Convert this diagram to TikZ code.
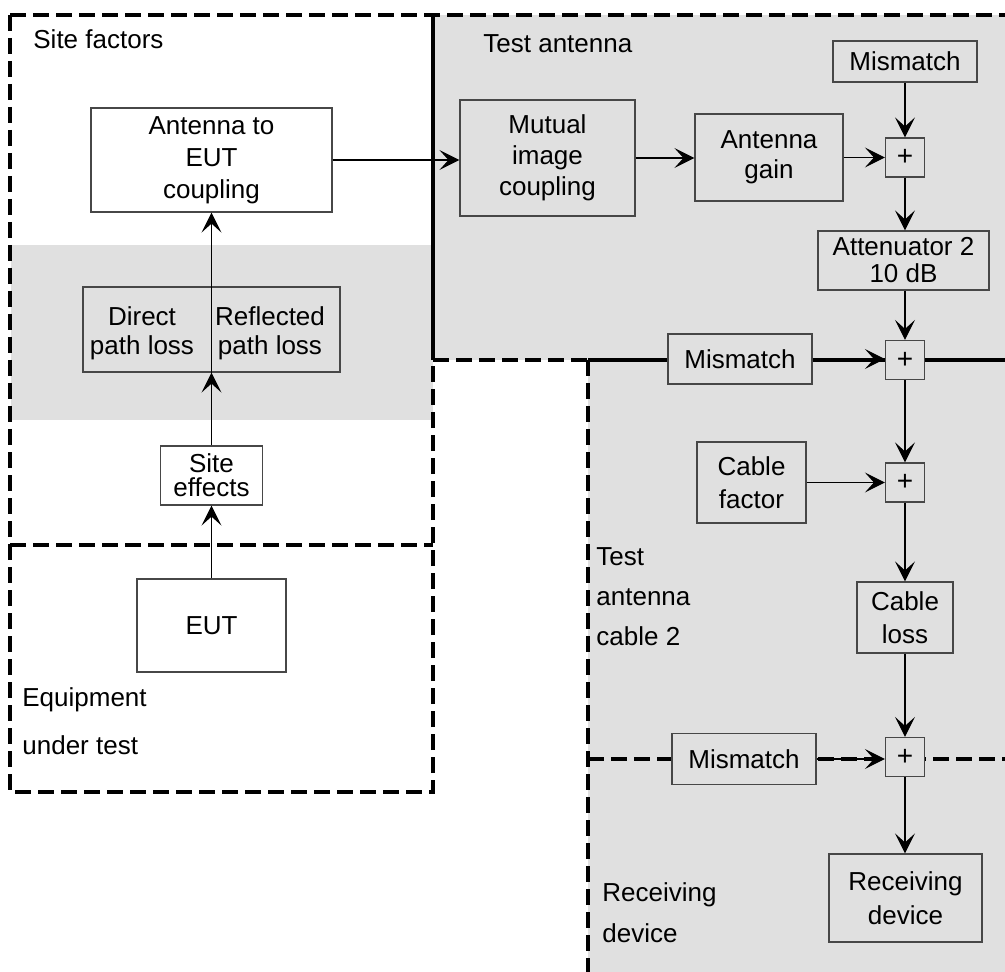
\documentclass[tikz,border=0pt]{standalone}
\usepackage{fontspec}
\setmainfont{Liberation Sans}
\usetikzlibrary{arrows.meta}
\definecolor{panel}{gray}{0.878}
\definecolor{edge}{gray}{0.28}

\begin{document}
\begin{tikzpicture}[x=0.5pt,y=-0.5pt,
  every node/.style={font=\fontsize{13}{16}\selectfont},
  linesp/.style={font=\fontsize{13}{#1}\selectfont},
  blockbox/.style={draw=edge, line width=0.6pt, align=center, inner sep=0pt, fill=panel},
  whitebox/.style={blockbox, fill=white},
  sumbox/.style={blockbox, minimum size=19.5pt, font=\fontsize{14}{16}\selectfont},
  plain/.style={align=center, inner sep=0pt},
  tag/.style={anchor=base west, inner sep=0pt},
  flow/.style={-{Stealth[length=10pt,width=10pt,inset=4.5pt]}, line width=0.6pt, draw=black},
  rim/.style={line width=1.8pt, dash pattern=on 8pt off 3.5pt},
  rimsolid/.style={line width=1.8pt}]

\useasboundingbox (0,0) rectangle (1005,972);

% shaded areas
\fill[panel] (433,15) rectangle (1005,360);
\fill[panel] (588,360) rectangle (1005,972);
\fill[panel] (11,245) rectangle (433,420);

% boundary of the site / EUT area
\draw[rim] (10,15) -- (1005,15);
\draw[rim] (10,15) -- (10,792) -- (433,792) -- (433,360);
\draw[rim] (10,545) -- (433,545);
% boundary of the test antenna area
\draw[rimsolid] (433,15) -- (433,360);
\draw[rim] (433,360) -- (588,360);
\draw[rimsolid] (588,360) -- (1005,360);
% boundary of the cable / receiver area
\draw[rim] (588,360) -- (588,972);
\draw[rim] (588,759) -- (1005,759);

% site and EUT blocks
\node[whitebox, minimum width=120.5pt, minimum height=52pt, linesp=16pt] (ant2eut) at (211.5,160) {Antenna to\\EUT\\coupling};
\node[blockbox, minimum width=128.5pt, minimum height=42.5pt] (paths) at (211.5,329.5) {};
\node[plain, linesp=14.5pt] (direct) at (142,333) {Direct\\path loss};
\node[plain, linesp=14.5pt] (reflected) at (270,333) {Reflected\\path loss};
\node[whitebox, minimum width=51pt, minimum height=29.5pt, linesp=12pt] (siteeff) at (211.5,475.5) {Site\\effects};
\node[whitebox, minimum width=74.5pt, minimum height=46.5pt] (eut) at (211.5,625.5) {EUT};

% test antenna blocks
\node[blockbox, minimum width=87.5pt, minimum height=58pt, linesp=15.5pt] (mutual) at (547.5,158) {Mutual\\image\\coupling};
\node[blockbox, minimum width=74pt, minimum height=43.5pt, linesp=15pt] (gain) at (769,157.5) {Antenna\\gain};
\node[blockbox, minimum width=72pt, minimum height=20.5pt] (mmA) at (905,61.5) {Mismatch};
\node[sumbox] (sumA) at (905,157.5) {+};
\node[blockbox, minimum width=85.5pt, minimum height=29.5pt, linesp=13.5pt] (att) at (903.5,260.5) {Attenuator 2\\10 dB};
\node[sumbox] (sumB) at (905,360) {+};
\node[blockbox, minimum width=72pt, minimum height=25pt] (mmB) at (740,359) {Mismatch};

% cable and receiver blocks
\node[blockbox, minimum width=54.5pt, minimum height=40.5pt, linesp=16.5pt] (cablef) at (751.5,482.5) {Cable\\factor};
\node[sumbox] (sumC) at (905,482.5) {+};
\node[blockbox, minimum width=48pt, minimum height=35.5pt, linesp=16.5pt] (cablel) at (905,617.5) {Cable\\loss};
\node[sumbox] (sumD) at (905,757) {+};
\node[blockbox, minimum width=72pt, minimum height=25.5pt] (mmC) at (744,759) {Mismatch};
\node[blockbox, minimum width=76.5pt, minimum height=44pt, linesp=17pt] (recv) at (905.5,898) {Receiving\\device};

% area labels
\node[tag] (lblSite) at (33,49) {Site factors};
\node[tag] (lblAnt) at (483,53) {Test antenna};
\node[tag] (lblEqA) at (22,706) {Equipment};
\node[tag] (lblEqB) at (22,754) {under test};
\node[tag] (lblCabA) at (596,565) {Test};
\node[tag] (lblCabB) at (596,605) {antenna};
\node[tag] (lblCabC) at (596,645) {cable 2};
\node[tag] (lblRxA) at (602,901) {Receiving};
\node[tag] (lblRxB) at (602,942) {device};

% signal flow
\draw[flow] (eut.north) -- (siteeff.south);
\draw[flow] (siteeff.north) -- (paths.south);
\draw[flow] (paths.south) -- (ant2eut.south);
\draw[flow] (ant2eut.east) -- (ant2eut.east -| mutual.west);
\draw[flow] (mutual.east) -- (mutual.east -| gain.west);
\draw[flow] (gain.east) -- (sumA.west);
\draw[flow] (mmA.south) -- (sumA.north);
\draw[flow] (sumA.south) -- (sumA.south |- att.north);
\draw[flow] (att.south -| sumB.north) -- (sumB.north);
\draw[flow] (mmB.east) -- (mmB.east -| sumB.west);
\draw[flow] (sumB.south) -- (sumC.north);
\draw[flow] (cablef.east) -- (sumC.west);
\draw[flow] (sumC.south) -- (cablel.north);
\draw[flow] (cablel.south) -- (sumD.north);
\draw[flow] (mmC.east) -- (mmC.east -| sumD.west);
\draw[flow] (sumD.south) -- (sumD.south |- recv.north);
\end{tikzpicture}
\end{document}
